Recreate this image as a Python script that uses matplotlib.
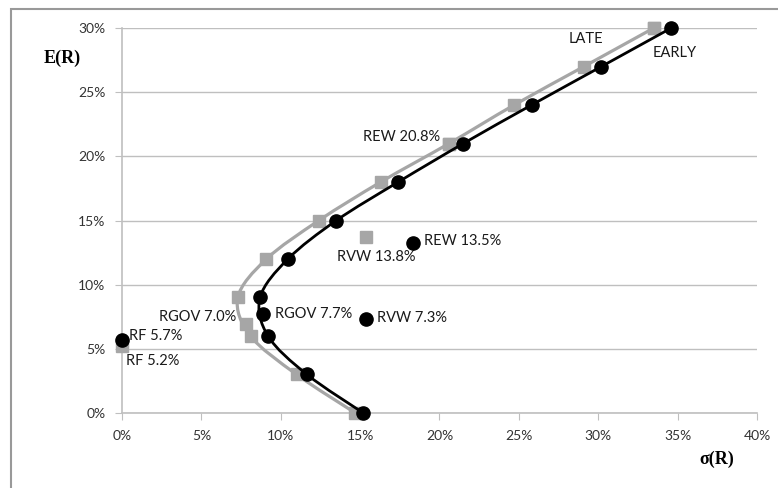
import matplotlib
matplotlib.use('Agg')
import matplotlib.pyplot as plt
from matplotlib.path import Path
from matplotlib.patches import PathPatch, Rectangle
from matplotlib.ticker import PercentFormatter

# frontera eficiente, periodo temprano (EARLY) y tardio (LATE), en %
er_front = [0, 3, 6, 9, 12, 15, 18, 21, 24, 27, 30]
sd_early = [15.2, 11.65, 9.2, 8.7, 10.45, 13.5, 17.4, 21.5, 25.8, 30.2, 34.6]
sd_late = [14.7, 11.0, 8.1, 7.3, 9.1, 12.4, 16.3, 20.6, 24.7, 29.1, 33.5]

# activos individuales
early_names = ['RF 5.7%', 'RGOV 7.7%', 'RVW 7.3%', 'REW 13.5%']
early_sd = [0.0, 8.9, 15.4, 18.3]
early_er = [5.7, 7.7, 7.3, 13.25]
late_names = ['RF 5.2%', 'RGOV 7.0%', 'RVW 13.8%', 'REW 20.8%', 'LATE']
late_sd = [0.0, 7.8, 15.4, 20.6, 33.5]
late_er = [5.2, 6.9, 13.75, 21, 30]

GRAY = '#a6a6a6'
GRID = '#bfbfbf'
FONT = 'Lato'


def smooth_path(xs, ys):
    # curva suavizada tipo Excel (Catmull-Rom como Bezier cubica)
    pts = list(zip(xs, ys))
    verts = [pts[0]]
    codes = [Path.MOVETO]
    n = len(pts)
    for i in range(n - 1):
        p0 = pts[i - 1] if i > 0 else pts[i]
        p1 = pts[i]
        p2 = pts[i + 1]
        p3 = pts[i + 2] if i + 2 < n else pts[i + 1]
        c1 = (p1[0] + (p2[0] - p0[0]) / 6, p1[1] + (p2[1] - p0[1]) / 6)
        c2 = (p2[0] - (p3[0] - p1[0]) / 6, p2[1] - (p3[1] - p1[1]) / 6)
        verts += [c1, c2, p2]
        codes += [Path.CURVE4] * 3
    return Path(verts, codes)


fig = plt.figure(figsize=(7.78, 4.88), dpi=100)
ax = fig.add_axes([0.1568, 0.1537, 0.973 - 0.1568, 0.9426 - 0.1537])

fig.patches.append(Rectangle((11 / 778, -0.1), 1.2, 0.1 + 1 - 9 / 488,
                             transform=fig.transFigure, fill=False,
                             edgecolor='#999999', lw=1.5))

# LATE
ax.add_patch(PathPatch(smooth_path(sd_late, er_front), fill=False,
                       edgecolor=GRAY, lw=2.3, zorder=2))
ax.plot(sd_late, er_front, 's', color=GRAY, ms=8.5, zorder=3, clip_on=False)
ax.plot(late_sd, late_er, 's', color=GRAY, ms=8.5, zorder=3, clip_on=False)

# EARLY
ax.add_patch(PathPatch(smooth_path(sd_early, er_front), fill=False,
                       edgecolor='black', lw=2.0, zorder=4))
ax.plot(sd_early, er_front, 'o', color='black', ms=9.5, zorder=5, clip_on=False)
ax.plot(early_sd, early_er, 'o', color='black', ms=9.5, zorder=5, clip_on=False)

# etiquetas (desplazamiento en pixeles, alineacion horizontal)
early_off = [(7, 4, 'left'), (12, 0, 'left'), (11, 1, 'left'), (11, 2, 'left')]
late_off = [(4, -15, 'left'), (-10, 7, 'right'), (-29, -20, 'left'),
            (-9, 7, 'right'), (-85, -11, 'left')]
for name, x, y, (dx, dy, ha) in zip(early_names, early_sd, early_er, early_off):
    ax.annotate(name, (x, y), xytext=(dx, dy), textcoords='offset pixels',
                ha=ha, va='center', fontsize=10.5, family=FONT, color='#1a1a1a')
for name, x, y, (dx, dy, ha) in zip(late_names, late_sd, late_er, late_off):
    ax.annotate(name, (x, y), xytext=(dx, dy), textcoords='offset pixels',
                ha=ha, va='center', fontsize=10.5, family=FONT, color='#1a1a1a')
ax.annotate('EARLY', (sd_early[-1], er_front[-1]), xytext=(-19, -25),
            textcoords='offset pixels', ha='left', va='center',
            fontsize=10.5, family=FONT, color='#1a1a1a')

ax.set_xlim(0, 40)
ax.set_ylim(0, 30)
ax.set_xticks(range(0, 41, 5))
ax.set_yticks(range(0, 31, 5))
ax.xaxis.set_major_formatter(PercentFormatter(decimals=0))
ax.yaxis.set_major_formatter(PercentFormatter(decimals=0))
ax.grid(axis='y', color=GRID, lw=1)
ax.set_axisbelow(True)
for s in ['top', 'right']:
    ax.spines[s].set_visible(False)
for s in ['left', 'bottom']:
    ax.spines[s].set_color(GRID)
    ax.spines[s].set_linewidth(1.2)
ax.tick_params(axis='both', direction='out', length=5, color=GRID,
               labelsize=10, labelcolor='#333333')
ax.tick_params(axis='x', pad=7)
ax.tick_params(axis='y', pad=7)
for lab in ax.get_xticklabels() + ax.get_yticklabels():
    lab.set_family(FONT)

fig.text(62 / 778, 1 - 58 / 488, 'E(R)', ha='center', va='center',
         family='Liberation Serif', weight='bold', fontsize=13)
fig.text(717 / 778, 1 - 459 / 488, 'σ(R)', ha='center', va='center',
         family='Liberation Serif', weight='bold', fontsize=13)

fig.savefig('out.png', dpi=100)
